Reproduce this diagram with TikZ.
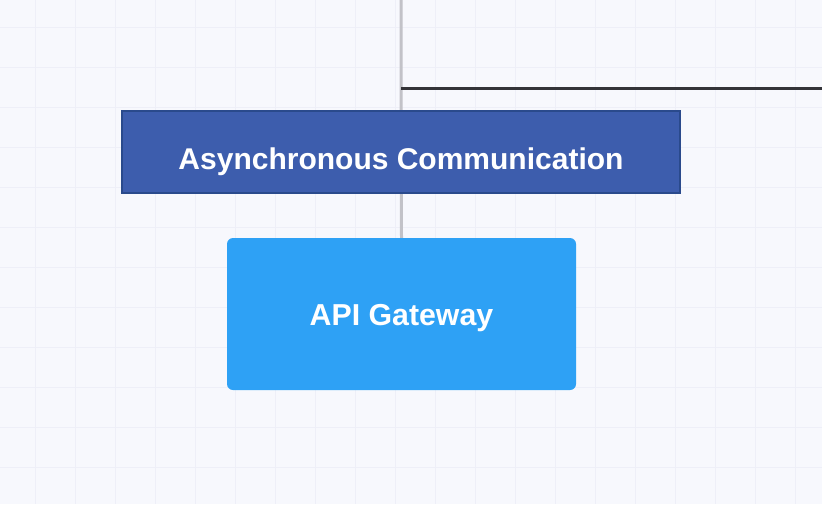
\documentclass[tikz,border=0pt]{standalone}
\usepackage{fontspec}
\setmainfont{Liberation Sans}
\usetikzlibrary{positioning}

\definecolor{bgpaper}{HTML}{F7F8FD}
\definecolor{gridline}{HTML}{EEEFF8}
\definecolor{asyncfill}{HTML}{3D5DAD}
\definecolor{asyncedge}{HTML}{2A4A8C}
\definecolor{gatefill}{HTML}{2EA1F5}
\definecolor{trunkgray}{HTML}{C2C2C8}
\definecolor{branchdark}{HTML}{333338}

\tikzset{
  groupbox/.style={draw=asyncedge, line width=1.2pt, fill=asyncfill,
    minimum width=558pt, inner sep=0pt, text height=58pt, text depth=24pt,
    text=white, font=\fontsize{30}{34}\selectfont\bfseries},
  servicebox/.style={fill=gatefill, rounded corners=6pt,
    minimum width=349pt, inner sep=0pt, text height=87pt, text depth=65pt,
    text=white, font=\fontsize{30.3}{34}\selectfont\bfseries}
}

\begin{document}
\begin{tikzpicture}[x=1pt, y=-1pt]

  % Background and grid
  \fill[bgpaper] (0,0) rectangle (822,504);
  \useasboundingbox (0,0) rectangle (822,504);
  \foreach \gx in {35,75,...,815}
    \draw[gridline, line width=1pt] (\gx,0) -- (\gx,504);
  \foreach \gy in {27,67,...,500}
    \draw[gridline, line width=1pt] (0,\gy) -- (822,\gy);

  % Trunk and branch
  \coordinate (top) at (401,0);
  \coordinate (fork) at (401,88);
  \coordinate (edge) at (822,88);

  % API Gateway
  \node[servicebox] (gateway) at (401.5,314) {API Gateway};

  \draw[trunkgray, line width=3pt] (top) -- (gateway.north);
  \draw[branchdark, line width=3pt] (fork) -- (edge);

  % Asynchronous Communication
  \node[groupbox] (async) at (401,152) {Asynchronous Communication};

\end{tikzpicture}
\end{document}
